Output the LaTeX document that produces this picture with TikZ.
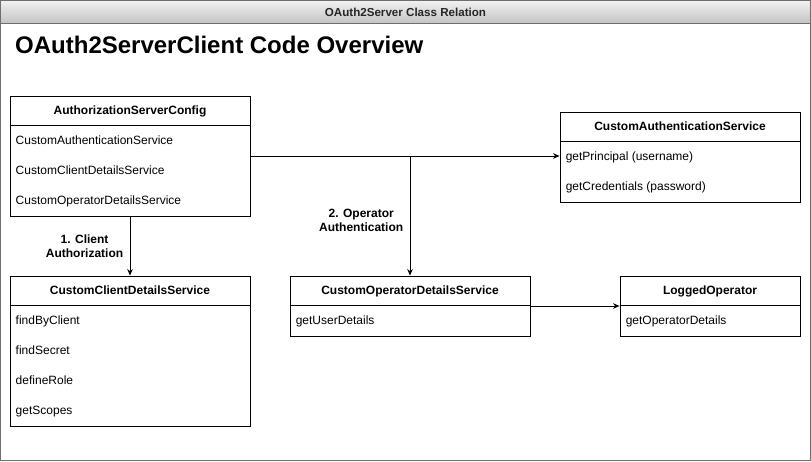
\documentclass[tikz,border=0pt]{standalone}
\usepackage{fontspec}
\setmainfont{Liberation Sans}
\usetikzlibrary{positioning,arrows.meta}

\definecolor{framegray}{HTML}{6E6E6E}
\definecolor{bartop}{HTML}{F2F2F2}
\definecolor{barbottom}{HTML}{C4C4C4}

\tikzset{
  classbox/.style={draw, fill=white, line width=0.9pt, inner sep=0pt, minimum width=240pt},
  classhead/.style={font=\bfseries\fontsize{12}{14}\selectfont, inner sep=0pt, anchor=base},
  classrow/.style={font=\fontsize{12}{14}\selectfont, anchor=base west, inner sep=0pt},
  steplabel/.style={font=\bfseries\fontsize{12}{14}\selectfont, align=center},
  flow/.style={line width=0.9pt, -{Stealth[length=6.5pt,width=5.5pt]}}
}

\begin{document}
\begin{tikzpicture}[x=1pt,y=-1pt]

  % Frame and title bar
  \useasboundingbox (0,0) rectangle (811,461);
  \shade[top color=bartop, bottom color=barbottom] (0,0) rectangle (811,23);
  \draw[framegray, line width=1.4pt] (0.7,0.7) rectangle (810.3,460.3);
  \draw[framegray, line width=1pt] (0.7,23) -- (810.3,23);
  \node[font=\bfseries\fontsize{11.6}{13}\selectfont, text=black!85] (bar) at (405.5,12.5) {OAuth2Server Class Relation};
  \node[font=\bfseries\fontsize{24}{28}\selectfont, anchor=west, inner sep=0pt] (title) at (15,45) {OAuth2ServerClient Code Overview};

  % Define class boxes
  \node[classbox, minimum height=120pt] (config) at (130,156) {};
  \node[classbox, minimum height=150pt] (client) at (130,351) {};
  \node[classbox, minimum height=90pt]  (auth)   at (680,157) {};
  \node[classbox, minimum height=60pt]  (oper)   at (410,306) {};
  \node[classbox, minimum height=60pt, minimum width=180pt] (logged) at (710,306) {};

  % Headers
  \foreach \c/\t in {config/AuthorizationServerConfig, client/CustomClientDetailsService,
                     auth/CustomAuthenticationService, oper/CustomOperatorDetailsService,
                     logged/LoggedOperator} {
    \node[classhead] (\c-head) at ([yshift=-19.3pt]\c.north) {\t};
    \draw[line width=0.9pt] ([yshift=-30pt]\c.north west) -- ([yshift=-30pt]\c.north east);
  }

  % Members
  \node[classrow] (config-1) at ([xshift=6pt,yshift=-49.3pt]config.north west) {CustomAuthenticationService};
  \node[classrow] (config-2) at ([xshift=6pt,yshift=-79.3pt]config.north west) {CustomClientDetailsService};
  \node[classrow] (config-3) at ([xshift=6pt,yshift=-109.3pt]config.north west) {CustomOperatorDetailsService};

  \node[classrow] (client-1) at ([xshift=6pt,yshift=-49.3pt]client.north west) {findByClient};
  \node[classrow] (client-2) at ([xshift=6pt,yshift=-79.3pt]client.north west) {findSecret};
  \node[classrow] (client-3) at ([xshift=6pt,yshift=-109.3pt]client.north west) {defineRole};
  \node[classrow] (client-4) at ([xshift=6pt,yshift=-139.3pt]client.north west) {getScopes};

  \node[classrow] (auth-1) at ([xshift=6pt,yshift=-49.3pt]auth.north west) {getPrincipal (username)};
  \node[classrow] (auth-2) at ([xshift=6pt,yshift=-79.3pt]auth.north west) {getCredentials (password)};

  \node[classrow] (oper-1)   at ([xshift=6pt,yshift=-49.3pt]oper.north west) {getUserDetails};
  \node[classrow] (logged-1) at ([xshift=6pt,yshift=-49.3pt]logged.north west) {getOperatorDetails};

  % Connect the boxes
  \draw[flow] (config.south) -- node[steplabel, left=3pt] {1. Client\\Authorization} (client.north);
  \draw[flow] (config.east) -- (config.east -| auth.west);
  \draw[flow] (config.east) -| node[steplabel, pos=0.77, left=3pt] {2. Operator\\Authentication} (oper.north);
  \draw[flow] (oper.east) -- (logged.west);

\end{tikzpicture}
\end{document}
